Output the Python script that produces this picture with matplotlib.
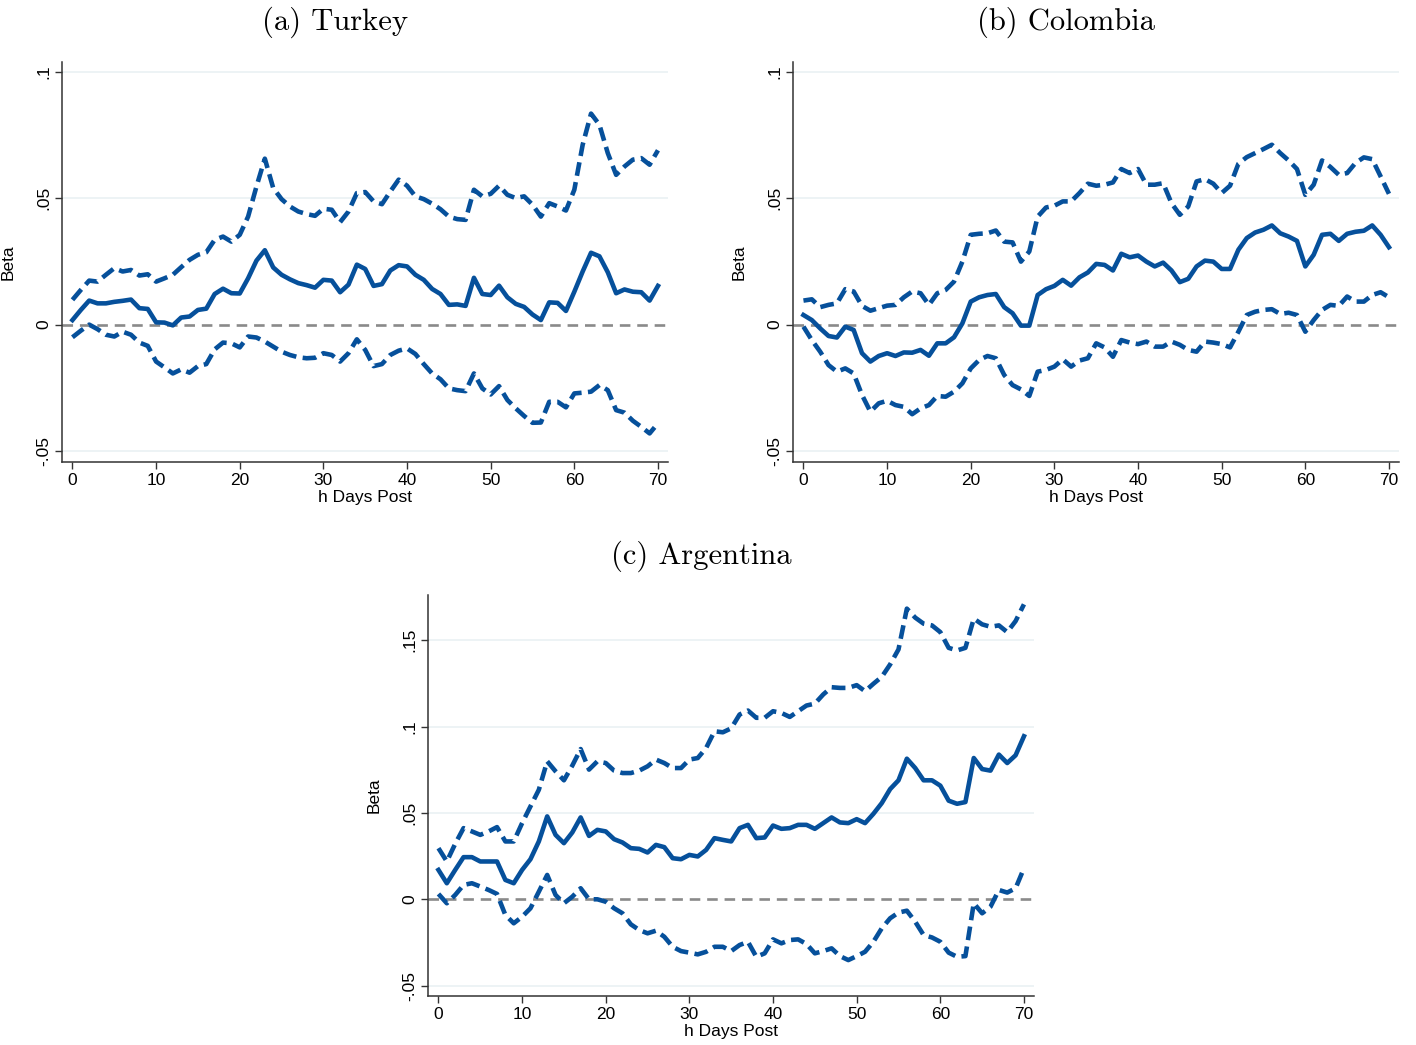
import matplotlib
matplotlib.use("Agg")
import matplotlib.pyplot as plt
import numpy as np

# ---------------- data ----------------
h = list(range(71))

turkey_beta = [.0018, .0058, .0095, .0084, .0084, .0090, .0094, .0099, .0065, .0062,
               .0009, .0008, -.0003, .0028, .0032, .0058, .0063, .0121, .0142, .0124,
               .0123, .0183, .0253, .0294, .0226, .0197, .0179, .0164, .0156, .0146,
               .0177, .0174, .0128, .0158, .0237, .0220, .0153, .0160, .0214, .0235,
               .0230, .0197, .0177, .0141, .0121, .0078, .0080, .0074, .0185, .0121,
               .0117, .0154, .0108, .0082, .0070, .0040, .0018, .0088, .0086, .0054,
               .0130, .0210, .0284, .0270, .0207, .0124, .0139, .0130, .0128, .0095,
               .0153]
turkey_upper = [.0098, .0137, .0174, .0170, .0197, .0223, .0210, .0216, .0194, .0199,
                .0170, .0183, .0197, .0227, .0256, .0276, .0286, .0335, .0348, .0328,
                .0355, .0427, .0546, .0656, .0540, .0496, .0467, .0447, .0437, .0430,
                .0458, .0454, .0405, .0447, .0520, .0524, .0487, .0476, .0526, .0573,
                .0549, .0507, .0496, .0478, .0456, .0427, .0417, .0414, .0533, .0507,
                .0517, .0549, .0513, .0500, .0507, .0474, .0427, .0480, .0467, .0451,
                .0533, .0711, .0834, .0790, .0678, .0592, .0625, .0652, .0658, .0632,
                .0689]
turkey_lower = [-.0050, -.0024, .0000, -.0018, -.0040, -.0047, -.0028, -.0040, -.0071, -.0084,
                -.0146, -.0169, -.0193, -.0177, -.0190, -.0164, -.0156, -.0098, -.0071, -.0074,
                -.0090, -.0047, -.0051, -.0067, -.0087, -.0107, -.0120, -.0129, -.0133, -.0131,
                -.0113, -.0120, -.0146, -.0113, -.0058, -.0100, -.0164, -.0156, -.0120, -.0103,
                -.0094, -.0116, -.0156, -.0193, -.0216, -.0252, -.0259, -.0263, -.0193, -.0252,
                -.0276, -.0243, -.0298, -.0331, -.0361, -.0388, -.0387, -.0305, -.0305, -.0327,
                -.0272, -.0269, -.0265, -.0239, -.0259, -.0338, -.0348, -.0380, -.0404, -.0430,
                -.0390]

colombia_beta = [.0038, .0018, -.0015, -.0045, -.0051, -.0008, -.0021, -.0113, -.0146, -.0124,
                 -.0113, -.0124, -.0110, -.0111, -.0100, -.0123, -.0074, -.0074, -.0050, .0005,
                 .0091, .0108, .0117, .0121, .0069, .0045, -.0004, -.0004, .0117, .0140,
                 .0153, .0177, .0154, .0187, .0206, .0240, .0236, .0214, .0280, .0266,
                 .0273, .0249, .0230, .0245, .0214, .0168, .0181, .0230, .0253, .0249,
                 .0220, .0220, .0296, .0342, .0364, .0375, .0392, .0361, .0348, .0331,
                 .0230, .0276, .0355, .0359, .0331, .0359, .0367, .0371, .0392, .0355,
                 .0306]
colombia_upper = [.0095, .0100, .0069, .0078, .0084, .0140, .0131, .0074, .0055, .0065,
                  .0075, .0078, .0108, .0131, .0124, .0078, .0124, .0137, .0170, .0249,
                  .0355, .0359, .0361, .0372, .0328, .0325, .0249, .0289, .0427, .0463,
                  .0470, .0487, .0487, .0520, .0557, .0549, .0553, .0562, .0615, .0599,
                  .0615, .0553, .0553, .0559, .0480, .0434, .0467, .0566, .0575, .0557,
                  .0520, .0549, .0636, .0662, .0678, .0694, .0711, .0678, .0649, .0615,
                  .0513, .0553, .0649, .0623, .0592, .0599, .0639, .0661, .0654, .0586,
                  .0517]
colombia_lower = [-.0008, -.0061, -.0107, -.0160, -.0186, -.0173, -.0193, -.0278, -.0344, -.0311,
                  -.0301, -.0318, -.0325, -.0354, -.0331, -.0318, -.0282, -.0285, -.0265, -.0232,
                  -.0173, -.0140, -.0124, -.0133, -.0199, -.0239, -.0256, -.0282, -.0186, -.0179,
                  -.0166, -.0137, -.0166, -.0142, -.0133, -.0074, -.0090, -.0127, -.0061, -.0071,
                  -.0077, -.0067, -.0087, -.0087, -.0067, -.0080, -.0100, -.0107, -.0067, -.0071,
                  -.0077, -.0090, -.0028, .0038, .0051, .0058, .0061, .0042, .0047, .0038,
                  -.0028, .0018, .0058, .0078, .0074, .0111, .0091, .0091, .0117, .0128,
                  .0108]

argentina_beta = [.0170, .0093, .0170, .0244, .0244, .0219, .0219, .0219, .0112, .0093,
                  .0170, .0232, .0335, .0480, .0373, .0325, .0387, .0474, .0367, .0402,
                  .0393, .0348, .0329, .0296, .0292, .0271, .0315, .0302, .0238, .0232,
                  .0257, .0248, .0286, .0354, .0344, .0335, .0412, .0431, .0354, .0358,
                  .0427, .0408, .0412, .0431, .0431, .0408, .0441, .0474, .0445, .0441,
                  .0464, .0441, .0495, .0557, .0638, .0689, .0814, .0760, .0689, .0689,
                  .0658, .0571, .0553, .0563, .0818, .0754, .0745, .0838, .0789, .0834,
                  .0944]
argentina_upper = [.0296, .0219, .0321, .0412, .0393, .0373, .0393, .0418, .0335, .0335,
                   .0441, .0538, .0634, .0799, .0741, .0689, .0774, .0870, .0751, .0799,
                   .0789, .0745, .0731, .0731, .0745, .0770, .0809, .0789, .0760, .0760,
                   .0809, .0818, .0876, .0973, .0967, .0990, .1070, .1093, .1051, .1051,
                   .1089, .1079, .1056, .1089, .1122, .1133, .1186, .1228, .1224, .1224,
                   .1240, .1205, .1248, .1288, .1360, .1447, .1683, .1631, .1596, .1586,
                   .1547, .1456, .1441, .1456, .1625, .1592, .1578, .1586, .1547, .1611,
                   .1708]
argentina_lower = [.0031, -.0023, .0025, .0083, .0093, .0074, .0054, .0031, -.0091, -.0139,
                   -.0101, -.0052, .0044, .0141, .0025, -.0023, .0015, .0064, .0000, .0000,
                   -.0014, -.0052, -.0081, -.0145, -.0178, -.0197, -.0182, -.0217, -.0275, -.0300,
                   -.0309, -.0319, -.0304, -.0275, -.0275, -.0300, -.0265, -.0246, -.0333, -.0313,
                   -.0232, -.0255, -.0236, -.0232, -.0259, -.0313, -.0300, -.0284, -.0329, -.0352,
                   -.0329, -.0304, -.0246, -.0168, -.0110, -.0077, -.0066, -.0130, -.0207, -.0221,
                   -.0246, -.0309, -.0333, -.0329, -.0023, -.0081, -.0043, .0054, .0039, .0064,
                   .0180]

titles = ["(a) Turkey", "(b) Colombia", "(c) Argentina"]
x_ticks = [0, 10, 20, 30, 40, 50, 60, 70]
y_ticks_ab = [-0.05, 0, 0.05, 0.1]
y_ticklabels_ab = ["-.05", "0", ".05", ".1"]
y_ticks_c = [-0.05, 0, 0.05, 0.1, 0.15]
y_ticklabels_c = ["-.05", "0", ".05", ".1", ".15"]
xlabel = "h Days Post"
ylabel = "Beta"

# ---------------- style ----------------
W, H = 1416, 1045
fig = plt.figure(figsize=(W / 100, H / 100), dpi=100)
fig.patch.set_facecolor("white")

LINE_C = "#06509B"
GRID_C = "#E8F0F2"
ZERO_C = "#8A8A8A"
SANS = ["Liberation Sans", "DejaVu Sans"]
SERIF = ["cmr10", "DejaVu Serif"]


def px_axes(left, top, right, bottom):
    return fig.add_axes([left / W, 1 - bottom / H, (right - left) / W, (bottom - top) / H])


def draw_panel(ax, beta, upper, lower, yticks, yticklabels, ylim, title, title_xy):
    ax.set_facecolor("white")
    for yt in yticks:
        if yt != 0:
            ax.axhline(yt, color=GRID_C, lw=1.1, zorder=0)
    ax.axhline(0, color=ZERO_C, lw=1.9, dashes=(4.0, 2.6), zorder=1)
    ax.plot(h, upper, color=LINE_C, lw=3.3, dashes=(3.0, 1.4), zorder=3,
            dash_capstyle="butt")
    ax.plot(h, lower, color=LINE_C, lw=3.3, dashes=(3.0, 1.4), zorder=3,
            dash_capstyle="butt")
    ax.plot(h, beta, color=LINE_C, lw=3.3, zorder=4)
    ax.set_xlim(-1.25, 71.2)
    ax.set_ylim(*ylim)
    ax.set_xticks(x_ticks)
    ax.set_xticklabels([str(t) for t in x_ticks], fontfamily=SANS, fontsize=12.5)
    ax.set_yticks(yticks)
    ax.set_yticklabels(yticklabels, fontfamily=SANS, fontsize=12.5, rotation=90, va="center")
    for s in ["top", "right"]:
        ax.spines[s].set_visible(False)
    for s in ["left", "bottom"]:
        ax.spines[s].set_linewidth(1.1)
        ax.spines[s].set_color("#333333")
    ax.tick_params(axis="both", direction="out", length=5, width=1.0, color="#333333",
                   labelcolor="black")
    ax.tick_params(axis="x", pad=3)
    ax.tick_params(axis="y", pad=3)
    ax.set_xlabel(xlabel, fontfamily=SANS, fontsize=12.5)
    ax.xaxis.set_label_coords(0.5, -0.071)
    ax.xaxis.label.set_va("top")
    ax.set_ylabel(ylabel, fontfamily=SANS, fontsize=12.5)
    ax.yaxis.set_label_coords(-0.076, 0.5)
    fig.text(title_xy[0] / W, 1 - title_xy[1] / H, title, fontfamily=SERIF,
             fontsize=22, ha="center", va="center")


ax_a = px_axes(62, 62, 668, 462)
draw_panel(ax_a, turkey_beta, turkey_upper, turkey_lower, y_ticks_ab, y_ticklabels_ab,
           (-0.0543, 0.1038), titles[0], (335, 22))

ax_b = px_axes(793, 62, 1399, 462)
draw_panel(ax_b, colombia_beta, colombia_upper, colombia_lower, y_ticks_ab, y_ticklabels_ab,
           (-0.0543, 0.1038), titles[1], (1066, 22))

ax_c = px_axes(428, 595, 1034, 996)
draw_panel(ax_c, argentina_beta, argentina_upper, argentina_lower, y_ticks_c, y_ticklabels_c,
           (-0.056, 0.1762), titles[2], (701, 556))

fig.savefig("out.png", dpi=100, facecolor="white")
